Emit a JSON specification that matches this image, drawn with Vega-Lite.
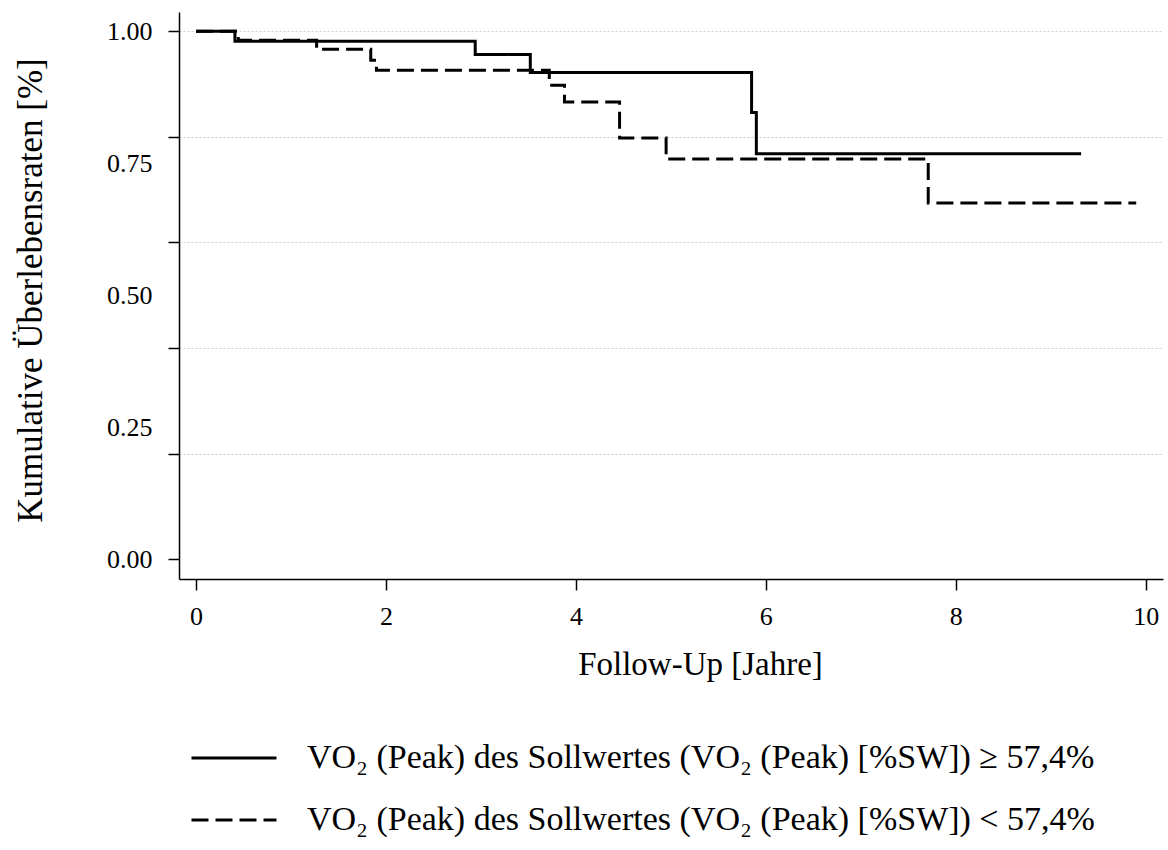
{
  "$schema": "https://vega.github.io/schema/vega-lite/v6.json",
  "autosize": {"type": "none"},
  "padding": {"left": 179, "top": 12, "right": 5, "bottom": 271},
  "width": 984,
  "height": 567,
  "background": "white",
  "config": {
    "view": {"stroke": null},
    "font": "Liberation Serif"
  },
  "data": {
    "values": [
      {"t": 0, "s": 1.0, "g": "VO₂ (Peak) des Sollwertes (VO₂ (Peak) [%SW]) ≥ 57,4%"},
      {"t": 0.41, "s": 0.981, "g": "VO₂ (Peak) des Sollwertes (VO₂ (Peak) [%SW]) ≥ 57,4%"},
      {"t": 2.94, "s": 0.956, "g": "VO₂ (Peak) des Sollwertes (VO₂ (Peak) [%SW]) ≥ 57,4%"},
      {"t": 3.52, "s": 0.922, "g": "VO₂ (Peak) des Sollwertes (VO₂ (Peak) [%SW]) ≥ 57,4%"},
      {"t": 5.85, "s": 0.846, "g": "VO₂ (Peak) des Sollwertes (VO₂ (Peak) [%SW]) ≥ 57,4%"},
      {"t": 5.9, "s": 0.768, "g": "VO₂ (Peak) des Sollwertes (VO₂ (Peak) [%SW]) ≥ 57,4%"},
      {"t": 9.32, "s": 0.768, "g": "VO₂ (Peak) des Sollwertes (VO₂ (Peak) [%SW]) ≥ 57,4%"},
      {"t": 0, "s": 1.0, "g": "VO₂ (Peak) des Sollwertes (VO₂ (Peak) [%SW]) < 57,4%"},
      {"t": 0.445, "s": 0.983, "g": "VO₂ (Peak) des Sollwertes (VO₂ (Peak) [%SW]) < 57,4%"},
      {"t": 1.27, "s": 0.966, "g": "VO₂ (Peak) des Sollwertes (VO₂ (Peak) [%SW]) < 57,4%"},
      {"t": 1.84, "s": 0.945, "g": "VO₂ (Peak) des Sollwertes (VO₂ (Peak) [%SW]) < 57,4%"},
      {"t": 1.9, "s": 0.926, "g": "VO₂ (Peak) des Sollwertes (VO₂ (Peak) [%SW]) < 57,4%"},
      {"t": 3.72, "s": 0.898, "g": "VO₂ (Peak) des Sollwertes (VO₂ (Peak) [%SW]) < 57,4%"},
      {"t": 3.88, "s": 0.866, "g": "VO₂ (Peak) des Sollwertes (VO₂ (Peak) [%SW]) < 57,4%"},
      {"t": 4.46, "s": 0.798, "g": "VO₂ (Peak) des Sollwertes (VO₂ (Peak) [%SW]) < 57,4%"},
      {"t": 4.95, "s": 0.758, "g": "VO₂ (Peak) des Sollwertes (VO₂ (Peak) [%SW]) < 57,4%"},
      {"t": 7.71, "s": 0.675, "g": "VO₂ (Peak) des Sollwertes (VO₂ (Peak) [%SW]) < 57,4%"},
      {"t": 9.9, "s": 0.675, "g": "VO₂ (Peak) des Sollwertes (VO₂ (Peak) [%SW]) < 57,4%"}
    ]
  },
  "mark": {"type": "line", "interpolate": "step-after", "color": "black", "strokeWidth": 3},
  "encoding": {
    "x": {
      "field": "t", "type": "quantitative",
      "scale": {"domain": [-0.179, 10.182], "nice": false, "zero": false},
      "axis": {
        "values": [0, 2, 4, 6, 8, 10],
        "title": "Follow-Up  [Jahre]",
        "grid": false,
        "domainColor": "black", "domainWidth": 1.5,
        "tickColor": "black", "tickWidth": 1.5, "tickSize": 11,
        "labelFont": "Liberation Serif", "labelFontSize": 26, "labelColor": "black",
        "labelPadding": 13, "labelFlush": false,
        "titleFont": "Liberation Serif", "titleFontSize": 33, "titleFontWeight": "normal", "titleColor": "black",
        "titleX": 521, "titleY": 85, "titleAlign": "center", "titleBaseline": "middle"
      }
    },
    "y": {
      "field": "s", "type": "quantitative",
      "scale": {"domain": [-0.0373, 1.0365], "nice": false, "zero": false},
      "axis": {
        "values": [0, 0.2, 0.25, 0.4, 0.5, 0.6, 0.75, 0.8, 1],
        "title": "Kumulative Überlebensraten [%]",
        "labelExpr": "round(datum.value*100) % 25 == 0 ? format(datum.value, '.2f') : ''",
        "grid": true,
        "gridColor": "#cfcfcf", "gridDash": [2, 2], "gridWidth": 1,
        "gridOpacity": {"condition": {"test": "round(datum.value*100) % 20 == 0 && datum.value > 0", "value": 1}, "value": 0},
        "tickOpacity": {"condition": {"test": "round(datum.value*100) % 20 == 0", "value": 1}, "value": 0},
        "domainColor": "black", "domainWidth": 1.5,
        "tickColor": "black", "tickWidth": 1.5, "tickSize": 11,
        "labelFont": "Liberation Serif", "labelFontSize": 26, "labelColor": "black",
        "labelPadding": 16, "labelFlush": false,
        "titleFont": "Liberation Serif", "titleFontSize": 35, "titleFontWeight": "normal", "titleColor": "black",
        "titleX": -149, "titleY": 278, "titleAlign": "center", "titleBaseline": "middle", "titleAngle": -90
      }
    },
    "strokeDash": {
      "field": "g", "type": "nominal",
      "scale": {
        "domain": ["VO₂ (Peak) des Sollwertes (VO₂ (Peak) [%SW]) ≥ 57,4%", "VO₂ (Peak) des Sollwertes (VO₂ (Peak) [%SW]) < 57,4%"],
        "range": [[1, 0], [17, 7]]
      },
      "legend": {
        "title": null,
        "orient": "none",
        "legendX": 11,
        "legendY": 702,
        "direction": "vertical",
        "symbolType": "stroke",
        "symbolSize": 7225,
        "symbolStrokeWidth": 3,
        "symbolStrokeColor": "black",
        "labelFont": "Liberation Serif",
        "labelFontSize": 34,
        "labelColor": "black",
        "labelOffset": 29,
        "labelLimit": 1000,
        "rowPadding": 1
      }
    }
  }
}
